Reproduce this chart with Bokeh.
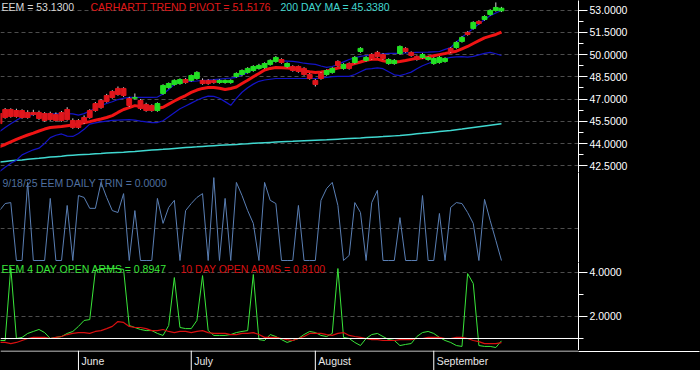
from bokeh.plotting import figure
from bokeh.layouts import column
from bokeh.models import Range1d, FixedTicker, PrintfTickFormatter, Label, Span
from bokeh.core.properties import value
from bokeh.embed import file_html
from bokeh.resources import INLINE

# ---------------- data ----------------
months = ["June", "July", "August", "September"]
month_start_idx = [14, 34, 56, 77]   # trading-day index of each month's first session

opens = [46.03, 46.30, 46.30, 46.23, 46.23, 46.10, 46.10, 46.10, 46.03, 46.03,
         45.96, 46.10, 46.30, 45.56, 45.56, 45.76, 46.23, 46.70, 46.91, 47.24,
         47.51, 47.72, 47.72, 47.04, 47.06, 46.91, 46.64, 46.57, 46.23, 47.38,
         47.78, 47.99, 48.05, 48.32, 48.26, 48.39, 48.26, 48.26, 48.26, 48.12,
         48.12, 48.12, 48.53, 48.66, 48.80, 48.93, 49.07, 49.13, 49.34, 49.54,
         49.67, 49.20, 49.20, 49.20, 49.07, 48.66, 48.26, 48.73, 48.66, 48.80,
         49.54, 49.07, 49.40, 49.47, 50.21, 49.61, 50.01, 50.15, 50.01, 49.40,
         49.40, 50.08, 50.42, 50.15, 49.88, 49.81, 49.67, 49.40, 49.47, 49.54,
         50.42, 50.48, 50.89, 51.50, 51.77, 52.24, 52.37, 52.71, 52.98, 52.95]
closes = [45.35, 45.76, 45.83, 45.83, 45.76, 45.76, 45.96, 45.69, 45.56, 45.62,
          45.56, 45.56, 45.62, 45.09, 45.09, 45.42, 45.76, 46.23, 46.43, 46.84,
          47.11, 47.31, 47.24, 46.57, 47.10, 46.37, 46.23, 46.23, 46.70, 47.92,
          48.05, 48.26, 48.32, 48.12, 48.59, 48.80, 48.05, 48.05, 48.12, 48.26,
          48.26, 48.26, 48.73, 48.93, 49.07, 49.20, 49.27, 49.40, 49.61, 49.81,
          49.47, 49.40, 48.93, 48.86, 48.66, 48.39, 47.99, 48.39, 48.93, 49.07,
          49.27, 49.34, 49.07, 49.81, 50.42, 49.81, 49.74, 49.88, 49.74, 49.67,
          49.61, 50.55, 50.21, 49.94, 49.67, 50.01, 49.81, 49.74, 49.81, 49.74,
          50.21, 50.82, 51.16, 51.36, 52.17, 52.10, 52.57, 52.98, 53.18, 53.13]
highs = [46.25, 46.40, 46.38, 46.35, 46.31, 46.25, 46.28, 46.22, 46.12, 46.15,
         46.10, 46.20, 46.45, 45.70, 45.65, 45.90, 46.32, 46.80, 47.00, 47.35,
         47.60, 47.85, 47.80, 47.15, 47.38, 47.00, 46.75, 46.65, 46.78, 48.00,
         48.12, 48.33, 48.40, 48.42, 48.66, 48.88, 48.40, 48.35, 48.33, 48.34,
         48.32, 48.33, 48.80, 49.00, 49.15, 49.28, 49.38, 49.48, 49.68, 49.90,
         49.75, 49.48, 49.28, 49.26, 49.15, 48.75, 48.35, 48.82, 49.00, 49.15,
         49.62, 49.42, 49.48, 49.90, 50.50, 49.90, 50.10, 50.25, 50.10, 49.75,
         49.70, 50.62, 50.50, 50.22, 49.95, 50.10, 49.88, 49.82, 49.90, 49.82,
         50.50, 50.90, 51.25, 51.58, 52.25, 52.32, 52.65, 53.06, 53.52, 53.22]
lows = [45.25, 45.68, 45.75, 45.75, 45.68, 45.68, 45.88, 45.60, 45.48, 45.54,
        45.48, 45.48, 45.55, 45.00, 45.00, 45.33, 45.68, 46.15, 46.35, 46.76,
        47.03, 47.23, 47.15, 46.48, 46.98, 46.28, 46.15, 46.15, 46.15, 47.30,
        47.70, 47.91, 47.97, 48.04, 48.18, 48.31, 47.97, 47.97, 48.04, 48.04,
        48.04, 48.04, 48.45, 48.58, 48.72, 48.85, 48.99, 49.05, 49.26, 49.46,
        49.39, 49.12, 48.85, 48.78, 48.58, 48.31, 47.85, 48.31, 48.58, 48.72,
        49.19, 48.99, 48.99, 49.39, 50.13, 49.53, 49.66, 49.80, 49.66, 49.32,
        49.32, 50.00, 50.13, 49.86, 49.59, 49.73, 49.59, 49.32, 49.39, 49.46,
        50.13, 50.40, 50.81, 51.28, 51.69, 52.02, 52.29, 52.63, 52.90, 52.87]

trend_pivot = [43.80, 43.94, 44.11, 44.28, 44.44, 44.58, 44.71, 44.85, 44.98, 45.08,
               45.12, 45.15, 45.20, 45.25, 45.33, 45.40, 45.48, 45.57, 45.66, 45.76,
               45.89, 46.10, 46.30, 46.43, 46.56, 46.50, 46.43, 46.40, 46.38, 46.45,
               46.66, 46.87, 47.06, 47.24, 47.45, 47.61, 47.72, 47.78, 47.78, 47.73,
               47.65, 47.72, 47.82, 48.05, 48.27, 48.51, 48.73, 48.96, 49.07, 49.13,
               49.11, 49.09, 49.07, 49.01, 48.89, 48.84, 48.80, 48.83, 48.88, 49.00,
               49.10, 49.17, 49.28, 49.39, 49.50, 49.62, 49.69, 49.70, 49.59, 49.52,
               49.48, 49.53, 49.60, 49.68, 49.75, 49.79, 49.84, 49.92, 50.00, 50.07,
               50.15, 50.23, 50.39, 50.55, 50.75, 50.94, 51.13, 51.25, 51.36, 51.5176]
upper_band = [44.81, 45.08, 45.33, 45.58, 45.79, 45.87, 45.96, 45.97, 45.98, 46.00,
              46.00, 46.02, 46.02, 46.00, 45.92, 46.02, 46.20, 46.40, 46.58, 46.70,
              46.82, 46.97, 47.06, 47.11, 47.11, 47.11, 47.11, 47.11, 47.14, 47.34,
              47.65, 47.99, 48.12, 48.19, 48.20, 48.22, 48.26, 48.28, 48.31, 48.35,
              48.39, 48.42, 48.47, 48.62, 48.80, 49.00, 49.15, 49.32, 49.47, 49.60,
              49.58, 49.56, 49.54, 49.49, 49.42, 49.38, 49.34, 49.23, 49.14, 49.20,
              49.34, 49.51, 49.67, 49.79, 49.88, 49.94, 49.98, 50.01, 50.06, 50.08,
              50.08, 50.09, 50.11, 50.13, 50.15, 50.16, 50.17, 50.19, 50.21, 50.35,
              50.48, 50.83, 51.17, 51.47, 51.76, 52.08, 52.35, 52.63, 52.81, 52.98]
lower_band = [42.11, 42.40, 42.67, 42.88, 43.24, 43.42, 43.58, 43.69, 44.01, 44.40,
              44.56, 44.65, 44.50, 44.48, 44.68, 44.96, 45.31, 45.40, 45.46, 45.52,
              45.56, 45.58, 45.60, 45.62, 45.58, 45.52, 45.47, 45.42, 45.42, 45.54,
              45.81, 46.08, 46.35, 46.54, 46.73, 46.92, 47.08, 47.20, 47.18, 47.06,
              46.83, 46.58, 47.05, 47.46, 47.77, 48.01, 48.20, 48.29, 48.34, 48.39,
              48.39, 48.39, 48.39, 48.39, 48.39, 48.39, 48.39, 48.42, 48.47, 48.51,
              48.53, 48.53, 48.53, 48.66, 48.84, 49.02, 49.05, 49.11, 49.05, 48.84,
              48.64, 48.58, 48.69, 48.82, 49.05, 49.25, 49.40, 49.54, 49.65, 49.73,
              49.81, 49.85, 49.87, 49.83, 49.88, 49.98, 50.08, 50.15, 50.06, 49.94]
ma200 = [42.76, 42.80, 42.84, 42.87, 42.90, 42.95, 42.98, 43.01, 43.05, 43.09,
         43.12, 43.15, 43.20, 43.22, 43.24, 43.26, 43.28, 43.31, 43.33, 43.36,
         43.38, 43.40, 43.42, 43.45, 43.47, 43.50, 43.53, 43.56, 43.59, 43.61,
         43.64, 43.67, 43.70, 43.73, 43.76, 43.78, 43.81, 43.84, 43.86, 43.88,
         43.90, 43.92, 43.94, 43.97, 43.99, 44.02, 44.04, 44.06, 44.08, 44.10,
         44.12, 44.14, 44.15, 44.17, 44.19, 44.21, 44.23, 44.25, 44.26, 44.28,
         44.30, 44.32, 44.34, 44.36, 44.38, 44.41, 44.43, 44.45, 44.47, 44.50,
         44.52, 44.54, 44.58, 44.62, 44.66, 44.69, 44.73, 44.77, 44.81, 44.85,
         44.88, 44.94, 44.98, 45.04, 45.09, 45.14, 45.19, 45.24, 45.29, 45.338]

trin = [1.56, 1.78, 1.81, 0.00, 0.00, 2.44, 0.00, 0.00, 0.00, 1.94,
        0.00, 0.00, 1.72, 0.00, 2.03, 1.97, 1.63, 1.63, 2.44, 1.97,
        1.56, 1.50, 2.09, 0.00, 1.56, 0.00, 0.00, 0.00, 1.94, 1.16,
        1.66, 1.88, 0.00, 1.56, 1.78, 1.97, 2.09, 0.00, 2.59, 0.00,
        1.94, 0.00, 2.44, 2.03, 1.56, 1.16, 0.00, 2.44, 1.88, 1.78,
        0.00, 0.00, 0.00, 1.72, 0.00, 0.00, 0.00, 1.88, 2.25, 2.44,
        1.72, 0.00, 0.16, 1.81, 1.50, 0.00, 1.81, 2.19, 0.00, 0.00,
        0.00, 1.34, 0.00, 0.00, 0.00, 2.03, 0.00, 0.00, 1.47, 0.00,
        1.66, 1.81, 1.78, 1.50, 1.16, 0.00, 1.91, 1.25, 0.63, 0.00]

open_arms_4 = [0.91, 0.91, 4.23, 1.00, 1.05, 1.23, 1.32, 1.41, 1.27, 1.00,
               1.05, 1.09, 1.23, 1.32, 1.55, 1.82, 1.86, 4.09, 4.18, 4.18,
               4.18, 4.18, 4.14, 1.59, 1.50, 1.41, 1.36, 1.36, 1.23, 1.14,
               1.59, 3.77, 1.50, 1.45, 1.45, 1.82, 3.86, 1.36, 1.14, 1.14,
               1.14, 1.18, 1.27, 1.32, 1.36, 3.91, 0.95, 0.91, 1.18, 1.09,
               0.95, 0.82, 0.91, 1.00, 1.18, 1.32, 1.27, 1.14, 1.09, 1.23,
               4.18, 1.05, 1.00, 0.82, 0.68, 1.00, 1.18, 1.23, 1.09, 0.95,
               0.91, 0.68, 0.73, 0.77, 1.09, 1.27, 1.32, 1.23, 1.05, 0.91,
               0.82, 0.68, 0.64, 3.95, 3.50, 0.68, 0.64, 0.64, 0.59, 0.8947]
open_arms_10 = [0.82, 0.82, 0.77, 0.82, 0.91, 1.00, 1.05, 1.05, 1.05, 1.00,
                1.05, 1.09, 1.18, 1.23, 1.27, 1.27, 1.23, 1.32, 1.36, 1.45,
                1.55, 1.77, 1.73, 1.55, 1.50, 1.50, 1.45, 1.36, 1.36, 1.41,
                1.32, 1.27, 1.32, 1.32, 1.27, 1.32, 1.36, 1.27, 1.23, 1.23,
                1.23, 1.18, 1.18, 1.23, 1.23, 1.27, 1.18, 1.05, 1.05, 1.05,
                1.00, 0.95, 0.91, 1.00, 1.09, 1.23, 1.23, 1.23, 1.18, 1.14,
                1.23, 1.27, 1.14, 1.09, 1.05, 1.00, 0.95, 0.95, 0.91, 0.91,
                0.91, 0.95, 0.95, 0.95, 1.00, 1.00, 1.05, 1.05, 1.05, 1.00,
                1.00, 1.05, 1.05, 1.00, 0.91, 0.86, 0.77, 0.77, 0.77, 0.81]

price_ticks = [42.5, 44.0, 45.5, 47.0, 48.5, 50.0, 51.5, 53.0]
price_minor = [43.25, 44.75, 46.25, 47.75, 49.25, 50.75, 52.25]
arms_ticks = [2.0, 4.0]
arms_minor = [1.0, 3.0]
trin_grid = [1.0]
arms_base = 1.0

# ---------------- styling / layout ----------------
FONT = "Liberation Sans"
FS = "10.5px"
W = 700
RB = 122
H_PRICE, H_TRIN, H_ARMS, H_DATE = 172, 90, 88, 20
GRID = "#4d4d4d"

idx = list(range(len(closes)))
xr = Range1d(0.1773, 102.66)


def panel(h, yr, ticks, minor):
    p = figure(width=W, height=h, x_range=xr, y_range=yr, output_backend="svg",
               toolbar_location=None, x_axis_location=None, y_axis_location="right",
               background_fill_color="black", border_fill_color="black",
               outline_line_color=None, min_border_left=0, min_border_right=RB,
               min_border_top=0, min_border_bottom=0,
               styles={"background-color": "black"})
    p.xgrid.visible = False
    ax = p.yaxis[0]
    ax.ticker = FixedTicker(ticks=ticks, minor_ticks=minor)
    ax.formatter = PrintfTickFormatter(format="%.4f")
    ax.axis_line_color = "white"
    ax.axis_line_width = 1
    ax.major_tick_line_color = "white"
    ax.minor_tick_line_color = "white"
    ax.major_tick_in = 0
    ax.major_tick_out = 9
    ax.minor_tick_in = 0
    ax.minor_tick_out = 5
    ax.major_label_standoff = 2
    ax.major_label_text_color = "white"
    ax.major_label_text_font = FONT
    ax.major_label_text_font_size = FS
    p.ygrid.grid_line_color = GRID
    p.ygrid.grid_line_dash = "4 3"
    p.ygrid.grid_line_width = 1
    return p


def add_label(p, x, y, text, color):
    p.add_layout(Label(x=x, y=y, x_units="screen", y_units="screen", text=text,
                       text_color=color, text_font=FONT, text_font_size=FS,
                       text_baseline="middle", text_align="left"))


# ---- price panel ----
p1 = panel(H_PRICE, Range1d(42.05, 53.65), price_ticks, price_minor)
p1.line(idx, ma200, line_color="#40d8d0", line_width=1.5)
p1.line(idx, upper_band, line_color="#1414c8", line_width=1.2)
p1.line(idx, lower_band, line_color="#1414c8", line_width=1.2)
p1.line(idx, trend_pivot, line_color="#f01414", line_width=3)

UP, DOWN = "#22e022", "#e0161c"
tops = [max(o, c) for o, c in zip(opens, closes)]
bots = [min(o, c) for o, c in zip(opens, closes)]
cols = [UP if c >= o else DOWN for o, c in zip(opens, closes)]
p1.segment(x0=idx, y0=lows, x1=idx, y1=highs, line_color="#d0d0d0", line_width=1)
p1.vbar(x=idx, width=0.85, top=tops, bottom=bots, fill_color=cols, line_color=cols)

add_label(p1, 1, H_PRICE - 6, "EEM = 53.1300", "#d8d8d8")
add_label(p1, 90, H_PRICE - 6, "CARHARTT TREND PIVOT = 51.5176", "#e01818")
add_label(p1, 280, H_PRICE - 6, "200 DAY MA = 45.3380", "#40d8d0")

# ---- TRIN panel ----
p2 = panel(H_TRIN, Range1d(-0.0625, 2.75), [], [])
p2.ygrid.ticker = FixedTicker(ticks=trin_grid)
p2.line(idx, trin, line_color="#5a7fb4", line_width=1)
add_label(p2, 2, H_TRIN - 10, "9/18/25  EEM DAILY TRIN = 0.0000", "#4f6f9f")

# ---- Open arms panel ----
p3 = panel(H_ARMS, Range1d(0.4545, 4.4545), arms_ticks, arms_minor)
p3.add_layout(Span(location=arms_base, dimension="width", line_color="white", line_width=1))
p3.line(idx, open_arms_4, line_color="#3ae63a", line_width=1)
p3.line(idx, open_arms_10, line_color="#d81010", line_width=1.2)
add_label(p3, 1, H_ARMS - 6, "EEM 4 DAY OPEN ARMS = 0.8947", "#3ae63a")
add_label(p3, 180, H_ARMS - 6, "10 DAY OPEN ARMS = 0.8100", "#d81010")

# ---- date strip ----
p4 = figure(width=W, height=H_DATE, x_range=xr, y_range=Range1d(0, 1),
            output_backend="svg", toolbar_location=None,
            x_axis_location=None, y_axis_location="right",
            background_fill_color="black", border_fill_color="black",
            outline_line_color=None, min_border_left=0, min_border_right=RB,
            min_border_top=0, min_border_bottom=0,
            styles={"background-color": "black"})
p4.grid.visible = False
# top border line: across the frame, and continued across the right margin by a long tick
p4.add_layout(Span(location=0.975, dimension="width", line_color="white", line_width=1))
ax4 = p4.yaxis[0]
ax4.ticker = FixedTicker(ticks=[0.975], minor_ticks=[])
ax4.axis_line_color = None
ax4.major_tick_in = 0
ax4.major_tick_out = RB - 1
ax4.major_tick_line_color = "white"
ax4.major_label_standoff = 0
ax4.major_label_overrides = {0.975: ""}
ax4.major_label_text_font_size = "1px"
p4.segment(x0=month_start_idx, y0=0, x1=month_start_idx, y1=1, line_color="white", line_width=1)
p4.text(x=month_start_idx, y=0.5, text=months, x_offset=3, text_color="#e8e8e8",
        text_font=value(FONT), text_font_size=FS, text_baseline="middle", text_align="left")

layout = column(p1, p2, p3, p4, spacing=0, styles={"background-color": "black"})
open("out.html", "w").write(file_html(layout, INLINE))
